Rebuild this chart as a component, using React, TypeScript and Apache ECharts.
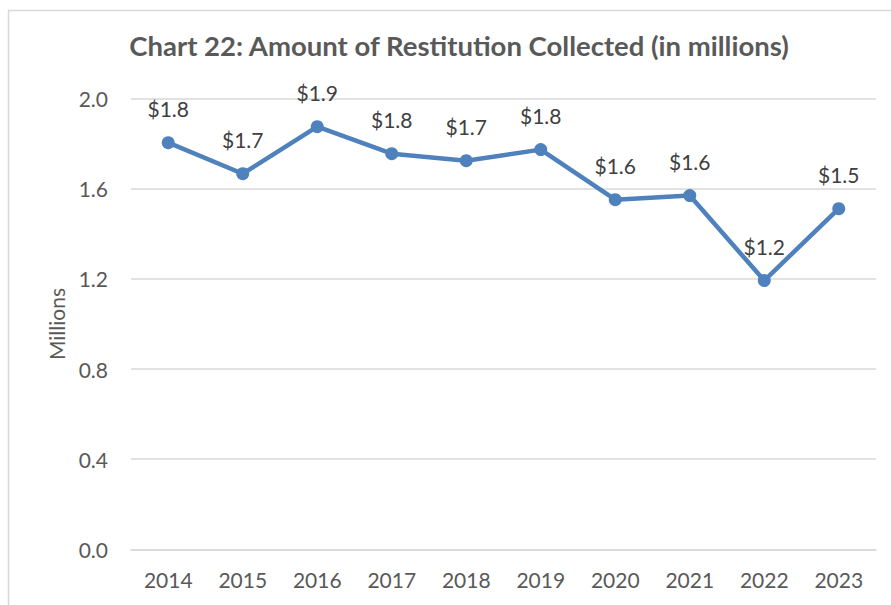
import React, { useEffect, useRef } from "react";
import * as echarts from "echarts";

const years = ["2014", "2015", "2016", "2017", "2018", "2019", "2020", "2021", "2022", "2023"];
const restitution = [1.805, 1.667, 1.876, 1.756, 1.725, 1.774, 1.552, 1.57, 1.193, 1.512];
const chartTitle = "Chart 22: Amount of Restitution Collected (in millions)";
const yAxisName = "Millions";

const FONT = "Lato, 'Open Sans', sans-serif";

export default function App() {
  const ref = useRef<HTMLDivElement>(null);
  useEffect(() => {
    if (!ref.current) return;
    const chart = echarts.init(ref.current, undefined, { renderer: "svg" });
    chart.setOption({
      animation: false,
      backgroundColor: "#ffffff",
      textStyle: { fontFamily: FONT },
      title: {
        text: chartTitle,
        left: 454,
        top: 26,
        textAlign: "center",
        textStyle: { fontFamily: FONT, fontSize: 27.5, fontWeight: "bold", color: "#595959" },
      },
      graphic: [
        {
          type: "rect",
          shape: { x: 8.5, y: 10.5, width: 950, height: 700 },
          style: { fill: "none", stroke: "#D9D9D9", lineWidth: 1.5 },
          silent: true,
        },
      ],
      grid: { left: 131, right: 15, top: 98.7, bottom: 55.7, containLabel: false },
      xAxis: {
        type: "category",
        data: years,
        boundaryGap: true,
        axisLine: { show: true, lineStyle: { color: "#D9D9D9", width: 1.5 } },
        axisTick: { show: false },
        axisLabel: { color: "#595959", fontSize: 21, fontFamily: FONT, margin: 20 },
      },
      yAxis: {
        type: "value",
        min: 0,
        max: 2.0,
        interval: 0.4,
        name: yAxisName,
        nameLocation: "middle",
        nameGap: 64,
        nameRotate: 90,
        nameTextStyle: { color: "#595959", fontSize: 21, fontFamily: FONT },
        axisLine: { show: false },
        axisTick: { show: false },
        splitLine: { lineStyle: { color: "#D9D9D9", width: 1.5 } },
        axisLabel: {
          color: "#595959",
          fontSize: 21,
          fontFamily: FONT,
          margin: 23,
          formatter: (v: number) => v.toFixed(1),
        },
      },
      series: [
        {
          type: "line",
          data: restitution,
          symbol: "circle",
          symbolSize: 13,
          lineStyle: { color: "#4F81BD", width: 4.5 },
          itemStyle: { color: "#4F81BD" },
          label: {
            show: true,
            position: "top",
            distance: 17,
            color: "#404040",
            fontSize: 21,
            fontFamily: FONT,
            formatter: (p: any) => "$" + Number(p.value).toFixed(1),
          },
        },
      ],
    });
    return () => chart.dispose();
  }, []);
  return (
    <div
      ref={ref}
      style={{ position: "fixed", left: 0, top: 0, width: 891, height: 605 }}
    />
  );
}
